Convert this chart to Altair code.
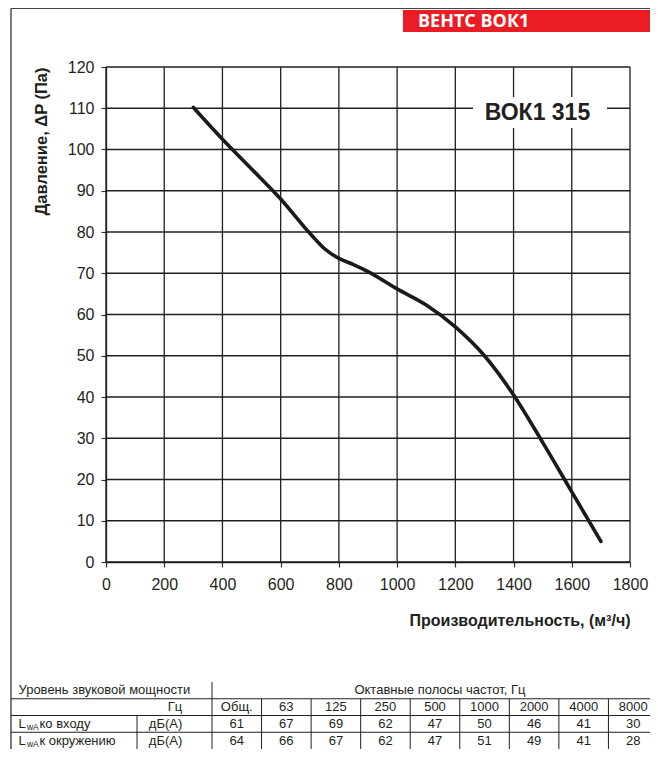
import altair as alt
import pandas as pd

# ---------------- data ----------------
flow = [300, 400, 500, 600, 700, 750, 800, 850, 900, 1000, 1100, 1200, 1300, 1400, 1500, 1600, 1700]
pressure = [110.2, 102.5, 95.3, 88, 79.7, 76, 73.6, 72.1, 70.4, 66.2, 62.3, 57, 50, 40.5, 29, 17, 5]

x_ticks = [0, 200, 400, 600, 800, 1000, 1200, 1400, 1600, 1800]
y_ticks = [0, 10, 20, 30, 40, 50, 60, 70, 80, 90, 100, 110, 120]

header_label = "ВЕНТС ВОК1"
model_label = "ВОК1 315"
x_title = "Производительность, (м³/ч)"
y_title = "Давление, ΔP (Па)"

sound_title = "Уровень звуковой мощности"
band_title = "Октавные полосы частот, Гц"
unit_hz = "Гц"
unit_db = "дБ(А)"
band_labels = ["Общ.", "63", "125", "250", "500", "1000", "2000", "4000", "8000"]
lwa_inlet = [61, 67, 69, 62, 47, 50, 46, 41, 30]
lwa_ambient = [64, 66, 67, 62, 47, 51, 49, 41, 28]
row_names = ["ко входу", "к окружению"]

# ---------------- style ----------------
INK = "#231f20"
GRID = "#1f1f1f"
FONT = "Liberation Sans"
W, H = 524, 495
RIGHT = 544  # right edge of the drawing, relative to plot origin

xs = alt.Scale(domain=[0, 1800], nice=False, zero=False)
ys = alt.Scale(domain=[0, 120], nice=False, zero=False)

x_axis = alt.Axis(values=x_ticks, format="d", grid=False,
                  domainColor=GRID, domainWidth=1.3, tickColor="#333333", tickSize=5,
                  tickWidth=1.2, labelFontSize=16, labelColor=INK, labelPadding=9,
                  labelFlush=False, labelOverlap=False, titleFontSize=16,
                  titleFontWeight="bold", titleColor=INK, titleAnchor="end",
                  titlePadding=20)
y_axis = alt.Axis(values=y_ticks, format="d", grid=False,
                  domainColor=GRID, domainWidth=1.3, tickColor="#333333", tickSize=5,
                  tickWidth=1.2, labelFontSize=16, labelColor=INK, labelPadding=7,
                  labelFlush=False, labelOverlap=False, titleFontSize=16.5,
                  titleFontWeight="bold", titleColor=INK, titleAnchor="end",
                  titlePadding=18)

one = alt.Data(values=[{}])

curve = alt.Chart(pd.DataFrame({"flow": flow, "pressure": pressure})).mark_line(
    color="#1a1a1a", strokeWidth=3.6, interpolate="monotone", strokeCap="round"
).encode(
    x=alt.X("flow:Q", scale=xs, axis=x_axis, title=x_title),
    y=alt.Y("pressure:Q", scale=ys, axis=y_axis, title=y_title),
)

# grid lines drawn from the tick arrays
vgrid = alt.Chart(pd.DataFrame({"gx": x_ticks})).mark_rule(color=GRID, strokeWidth=1.3).encode(
    x=alt.X("gx:Q", scale=xs, title=x_title),
    y=alt.datum(y_ticks[0]), y2=alt.datum(y_ticks[-1]))
hgrid = alt.Chart(pd.DataFrame({"gy": y_ticks})).mark_rule(color=GRID, strokeWidth=1.3).encode(
    y=alt.Y("gy:Q", scale=ys, title=y_title),
    x=alt.datum(x_ticks[0]), x2=alt.datum(x_ticks[-1]))

# white label box over the grid
box = alt.Chart(one).mark_rect(color="white").encode(
    x=alt.datum(1261), x2=alt.datum(1721), y=alt.datum(105.2), y2=alt.datum(112.7)
)
box_text = alt.Chart(one).mark_text(
    text=model_label, font=FONT, fontSize=23, fontWeight="bold", color=INK,
    align="center", baseline="alphabetic"
).encode(x=alt.datum(1482), y=alt.datum(107.1))

# page decorations
frame_top = alt.Chart(one).mark_rule(color="#444444", strokeWidth=1.2).encode(
    x=alt.value(-95), x2=alt.value(RIGHT), y=alt.value(-58.5))
frame_left = alt.Chart(one).mark_rule(color="#222222", strokeWidth=1.2).encode(
    x=alt.value(-95), y=alt.value(-58.5), y2=alt.value(H + 200))
red_band = alt.Chart(one).mark_rect(color="#ec1c24").encode(
    x=alt.value(297), x2=alt.value(RIGHT), y=alt.value(-57), y2=alt.value(-35))
red_text = alt.Chart(one).mark_text(
    text=header_label, font="Open Sans", fontSize=18, fontWeight="bold", color="white",
    align="left", baseline="alphabetic").encode(x=alt.value(312), y=alt.value(-40))

plot = alt.layer(vgrid, hgrid, box, box_text, curve,
                 frame_top, frame_left, red_band, red_text)

# ---------------- table ----------------
ncol = len(band_labels)
tx = alt.Scale(domain=[0, ncol], range=[106, 552], nice=False, zero=False)
ty = alt.Scale(domain=[0, 4], range=[615, 682], nice=False, zero=False)
LEFT_EDGE = -4.056
LABEL_X = -3.905
UNIT_X = -0.6
SPLIT_X = -1.513
RIGHT_EDGE = ncol - 8 / 49.556

cells = []
for i, lab in enumerate(band_labels):
    cells.append({"c": i + 0.5, "r": 1.5, "t": lab})
for i, v in enumerate(lwa_inlet):
    cells.append({"c": i + 0.5, "r": 2.5, "t": str(v)})
for i, v in enumerate(lwa_ambient):
    cells.append({"c": i + 0.5, "r": 3.5, "t": str(v)})
cells.append({"c": 4.6, "r": 0.5, "t": band_title})
center_df = pd.DataFrame(cells)

left_df = pd.DataFrame([{"c": LABEL_X, "r": 0.5, "t": sound_title}])
unit_df = pd.DataFrame([{"c": UNIT_X, "r": 1.5, "t": unit_hz},
                        {"c": UNIT_X, "r": 2.5, "t": unit_db},
                        {"c": UNIT_X, "r": 3.5, "t": unit_db}])
name_df = pd.DataFrame([{"c": LABEL_X, "r": 2.5 + k, "t": n} for k, n in enumerate(row_names)])

hl = pd.DataFrame([{"c": LEFT_EDGE, "c2": RIGHT_EDGE, "r": r} for r in (1, 2, 3)])
vl = pd.DataFrame([{"c": 0, "r": 0, "r2": 4}]
                  + [{"c": k, "r": 1, "r2": 4} for k in range(1, ncol)]
                  + [{"c": SPLIT_X, "r": 2, "r2": 4}])

def TX(f):
    return alt.X(f + ":Q", scale=tx, axis=None)

def TY(f):
    return alt.Y(f + ":Q", scale=ty, axis=None)

tstyle = dict(font=FONT, fontSize=13, color=INK, baseline="middle")

t_center = alt.Chart(center_df).mark_text(align="center", **tstyle).encode(
    x=TX("c"), y=TY("r"), text="t:N")
t_left = alt.Chart(left_df).mark_text(align="left", **tstyle).encode(
    x=TX("c"), y=TY("r"), text="t:N")
t_unit = alt.Chart(unit_df).mark_text(align="right", **tstyle).encode(
    x=TX("c"), y=TY("r"), text="t:N")
t_L = alt.Chart(name_df).mark_text(align="left", text="L", **tstyle).encode(
    x=TX("c"), y=TY("r"))
t_wA = alt.Chart(name_df).mark_text(align="left", text="wA", dx=8.5, dy=3,
                                    font=FONT, fontSize=8.5, color=INK,
                                    baseline="middle").encode(x=TX("c"), y=TY("r"))
t_name = alt.Chart(name_df).mark_text(align="left", dx=21, **tstyle).encode(
    x=TX("c"), y=TY("r"), text="t:N")
h_rules = alt.Chart(hl).mark_rule(color=INK, strokeWidth=1).encode(
    x=TX("c"), x2="c2:Q", y=TY("r"))
v_rules = alt.Chart(vl).mark_rule(color=INK, strokeWidth=1).encode(
    x=TX("c"), y=TY("r"), y2="r2:Q")

table = alt.layer(h_rules, v_rules, t_center, t_left, t_unit, t_L, t_wA, t_name)

chart = alt.layer(plot, table).resolve_scale(
    x="independent", y="independent"
).properties(
    width=W, height=H,
    padding={"left": 98, "top": 59, "right": 20, "bottom": 187},
    autosize=alt.AutoSizeParams(type="none"),
    background="white",
).configure(font=FONT).configure_view(strokeWidth=0)

chart.save("out.html", embed_options={"renderer": "svg", "actions": False})
